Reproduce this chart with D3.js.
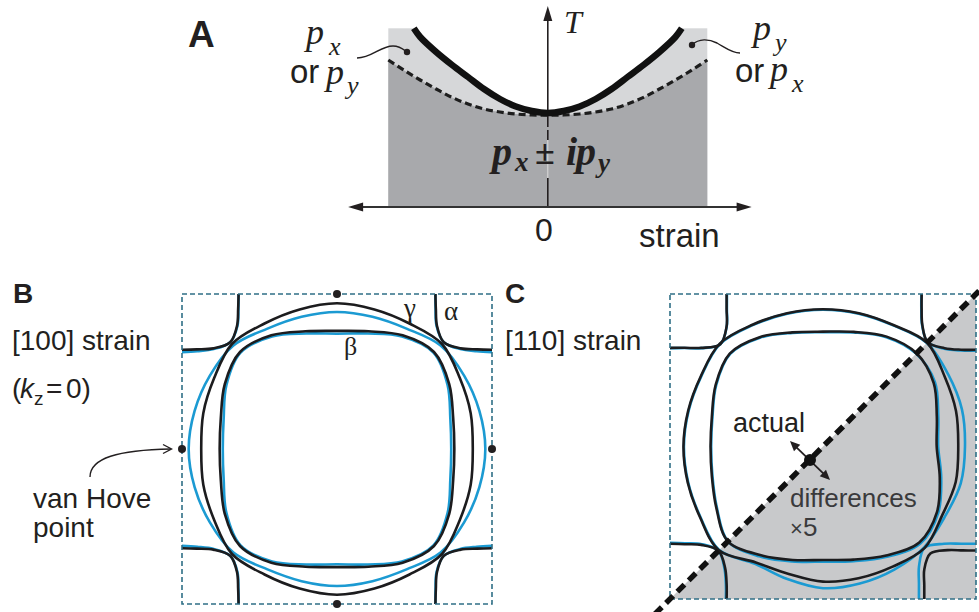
<!DOCTYPE html>
<html>
<head>
<meta charset="utf-8">
<script src="https://cdn.jsdelivr.net/npm/d3@7"></script>
<style>
  html, body { margin: 0; padding: 0; background: #fff; }
  svg { display: block; }
</style>
</head>
<body>
<svg id="fig" width="979" height="612"></svg>
<script>
// ---------- Panel A: transition temperature T versus strain ----------
const strainGrid = [-1, -0.9, -0.8, -0.7, -0.6, -0.5, -0.4, -0.3, -0.2, -0.1, 0,
                    0.1, 0.2, 0.3, 0.4, 0.5, 0.6, 0.7, 0.8, 0.9, 1];
// lower (dashed) boundary: below it the two-component p_x ± ip_y state
const tMixedEdge = [0.735, 0.683, 0.635, 0.59, 0.548, 0.515, 0.49, 0.475, 0.465, 0.46, 0.459,
                    0.46, 0.465, 0.475, 0.49, 0.515, 0.548, 0.59, 0.635, 0.683, 0.735];
// upper (thick) boundary: onset of the single-component p_x or p_y state
const strainSingle = [-0.84, -0.8, -0.7, -0.6, -0.5, -0.4, -0.3, -0.2, -0.1, 0,
                      0.1, 0.2, 0.3, 0.4, 0.5, 0.6, 0.7, 0.8, 0.84];
const tSingleEdge = [0.8935, 0.85, 0.775, 0.71, 0.65, 0.59, 0.54, 0.5025, 0.48, 0.47,
                     0.48, 0.5025, 0.54, 0.59, 0.65, 0.71, 0.775, 0.85, 0.8935];
const tBandTop = 0.8935;
const strainAxisEnds = [-1.252, 1.278];
const tAxisTop = 1.005;

// ---------- Panels B and C: Fermi surface sheets (radius versus polar angle, units of the zone half-width) ----------
const polarAngles = [0, 15, 30, 45, 60, 75, 90, 105, 120, 135, 150, 165,
                     180, 195, 210, 225, 240, 255, 270, 285, 300, 315, 330, 345];
const pocketAngles = [0, 15, 30, 45, 60, 75, 90];   // alpha pockets, measured from each zone corner
const zoneCorners = [[-1, 1], [1, 1], [-1, -1], [1, -1]];
const vanHovePoints = [[0, 1], [0, -1], [-1, 0], [1, 0]];

// B: [100] strain
const bGammaDark = [.876, .893, .915, .958, .935, .932, .940, .932, .935, .958, .915, .893,
                    .876, .893, .915, .958, .935, .932, .940, .932, .935, .958, .915, .893];
const bGammaBlue = [.957, .951, .947, .945, .897, .883, .884, .883, .897, .945, .947, .951,
                    .957, .951, .947, .945, .897, .883, .884, .883, .897, .945, .947, .951];
const bBetaDark  = [.757, .776, .836, .885, .847, .786, .762, .786, .847, .885, .836, .776,
                    .757, .776, .836, .885, .847, .786, .762, .786, .847, .885, .836, .776];
const bBetaBlue  = [.737, .757, .824, .880, .838, .771, .744, .771, .838, .880, .824, .757,
                    .737, .757, .824, .880, .838, .771, .744, .771, .838, .880, .824, .757];
const bAlphaDark = [.365, .375, .41, .44, .405, .37, .36];
const bAlphaBlue = [.365, .377, .413, .44, .41, .382, .375];

// C: [110] strain (upper-left half actual, lower-right half differences x5)
const cGammaDark = [.884, .900, .918, .962, .920, .905, .900, .905, .922, .954, .922, .912,
                    .912, .915, .928, .962, .878, .865, .886, .895, .910, .940, .900, .898];
const cGammaBlue = [.928, .940, .945, .960, .917, .902, .897, .902, .919, .951, .919, .909,
                    .909, .912, .925, .960, .888, .900, .929, .930, .932, .935, .920, .932];
const cBetaDark  = [.743, .770, .835, .865, .832, .778, .753, .775, .828, .862, .810, .752,
                    .735, .752, .805, .879, .822, .770, .744, .768, .825, .890, .860, .790];
const cBetaBlue  = [.753, .780, .845, .861, .828, .774, .749, .771, .824, .858, .806, .748,
                    .731, .748, .801, .879, .832, .780, .755, .778, .835, .900, .870, .800];
const cAlphaDarkTL = [.37, .383, .427, .465, .408, .365, .353];
const cAlphaBlueTL = [.372, .385, .428, .465, .41, .367, .355];
const cAlphaDarkTR = [.355, .368, .405, .447, .41, .378, .366];
const cAlphaBlueTR = [.357, .37, .407, .447, .415, .384, .372];
const cAlphaDarkBL = [.37, .383, .415, .448, .41, .372, .362];
const cAlphaBlueBL = [.365, .378, .41, .448, .415, .378, .368];
const cAlphaDarkBR = [.338, .35, .39, .422, .37, .33, .318];
const cAlphaBlueBR = [.373, .386, .43, .476, .418, .375, .362];
const cArrowDot = [-0.085, -0.088];
const cArrowEnds = [[-0.216, 0.036], [0.046, -0.219]];

// ---------- styling ----------
const SANS = '"Liberation Sans", Arial, Helvetica, sans-serif';
const SERIF = '"Liberation Serif", "Times New Roman", serif';
const INK = "#231f20";
const DARK = "#1c1c1e";
const BLUE = "#1b9ad2";
const BOX = "#2f6f86";

const svg = d3.select("#fig");
const defs = svg.append("defs");

function label(g, str, x, y, o = {}) {
  return g.append("text")
    .attr("x", x).attr("y", y)
    .attr("font-family", o.family || SANS)
    .attr("font-size", o.size || 28)
    .attr("font-style", o.style || "normal")
    .attr("font-weight", o.weight || "normal")
    .attr("text-anchor", o.anchor || "start")
    .attr("fill", o.fill || INK)
    .text(str);
}

function arrowHead(g, tip, angle, len, half, fill) {
  const c = Math.cos(angle), s = Math.sin(angle);
  const bx = tip[0] - c * len, by = tip[1] - s * len;
  const p = d3.path();
  p.moveTo(tip[0], tip[1]);
  p.lineTo(bx - s * half, by + c * half);
  p.lineTo(bx + s * half, by - c * half);
  p.closePath();
  g.append("path").attr("d", p.toString()).attr("fill", fill || INK);
}

// ======================= Panel A =======================
const xA = d3.scaleLinear().domain([-1, 1]).range([388.3, 707.3]);
const yA = d3.scaleLinear().domain([0, 1]).range([207, 7]);
const gA = svg.append("g");

const singlePts = strainSingle.map((s, i) => [s, tSingleEdge[i]]);
const mixedPts = strainGrid.map((s, i) => [s, tMixedEdge[i]]);

gA.append("rect")
  .attr("x", xA(-1)).attr("y", yA(tBandTop))
  .attr("width", xA(1) - xA(-1)).attr("height", yA(0) - yA(tBandTop))
  .attr("fill", "#d6d7d9");
gA.append("path").datum(singlePts)
  .attr("d", d3.area().x(d => xA(d[0])).y0(yA(tBandTop) - 1).y1(d => yA(d[1])).curve(d3.curveCatmullRom))
  .attr("fill", "#fff");
gA.append("path").datum(mixedPts)
  .attr("d", d3.area().x(d => xA(d[0])).y0(yA(0)).y1(d => yA(d[1])).curve(d3.curveCatmullRom))
  .attr("fill", "#a8a9ac");

// vertical T axis
const x0 = xA(0);
gA.append("line").attr("x1", x0).attr("x2", x0).attr("y1", yA(0.47)).attr("y2", yA(tAxisTop) + 10)
  .attr("stroke", INK).attr("stroke-width", 1.6);
gA.append("line").attr("x1", x0).attr("x2", x0).attr("y1", yA(0.46)).attr("y2", 140)
  .attr("stroke", INK).attr("stroke-width", 1.6).attr("stroke-dasharray", "12,3");
gA.append("line").attr("x1", x0).attr("x2", x0).attr("y1", 140).attr("y2", 178)
  .attr("stroke", "#dcdcdc").attr("stroke-width", 1);
gA.append("line").attr("x1", x0).attr("x2", x0).attr("y1", 178).attr("y2", yA(0))
  .attr("stroke", INK).attr("stroke-width", 1.6);
arrowHead(gA, [x0, yA(tAxisTop)], -Math.PI / 2, 15, 4.5);

// horizontal strain axis
gA.append("line")
  .attr("x1", xA(strainAxisEnds[0]) + 10).attr("x2", xA(strainAxisEnds[1]) - 10)
  .attr("y1", yA(0)).attr("y2", yA(0))
  .attr("stroke", "#333").attr("stroke-width", 1.8);
arrowHead(gA, [xA(strainAxisEnds[0]), yA(0)], Math.PI, 15, 4.5);
arrowHead(gA, [xA(strainAxisEnds[1]), yA(0)], 0, 15, 4.5);

// phase boundaries
gA.append("path").datum(mixedPts)
  .attr("d", d3.line().x(d => xA(d[0])).y(d => yA(d[1])).curve(d3.curveCatmullRom))
  .attr("fill", "none").attr("stroke", "#1d1d1d").attr("stroke-width", 3.2)
  .attr("stroke-dasharray", "7,4");
gA.append("path").datum(singlePts)
  .attr("d", d3.line().x(d => xA(d[0])).y(d => yA(d[1])).curve(d3.curveCatmullRom))
  .attr("fill", "none").attr("stroke", "#111").attr("stroke-width", 6.5);

// annotations
label(gA, "A", 188, 47, { size: 37, weight: "bold" });
label(gA, "T", 564, 33, { family: SERIF, style: "italic", size: 32 });
label(gA, "0", 544, 241, { size: 32, anchor: "middle" });
label(gA, "strain", 639, 247, { size: 33 });

// p_x ± ip_y
const bi = { family: SERIF, style: "italic", weight: "bold" };
label(gA, "p", 492, 165, { ...bi, size: 40 });
label(gA, "x", 515, 171, { ...bi, size: 27 });
label(gA, "±", 535, 164, { family: SERIF, weight: "bold", size: 36 });
label(gA, "i", 566, 165, { ...bi, size: 40 });
label(gA, "p", 576, 165, { ...bi, size: 40 });
label(gA, "y", 598, 172, { ...bi, size: 27 });

// left and right leaders
const it = { family: SERIF, style: "italic" };
label(gA, "p", 306, 44, { ...it, size: 36 });
label(gA, "x", 329, 55, { ...it, size: 26 });
label(gA, "or", 290, 83, { size: 33 });
label(gA, "p", 326, 84, { ...it, size: 36 });
label(gA, "y", 347, 94, { ...it, size: 26 });
gA.append("path").attr("d", "M357,58 C372,58 380,46 393,46 C400,46 403,49 407,52")
  .attr("fill", "none").attr("stroke", INK).attr("stroke-width", 1.4);
gA.append("circle").attr("cx", 407).attr("cy", 52).attr("r", 3.2).attr("fill", INK);

label(gA, "p", 753, 40, { ...it, size: 36 });
label(gA, "y", 775, 51, { ...it, size: 26 });
label(gA, "or", 735, 82, { size: 33 });
label(gA, "p", 770, 81, { ...it, size: 36 });
label(gA, "x", 792, 92, { ...it, size: 26 });
gA.append("path").attr("d", "M692,45 C699,38 709,39 717,43 C726,48 732,53 740,53")
  .attr("fill", "none").attr("stroke", INK).attr("stroke-width", 1.4);
gA.append("circle").attr("cx", 692).attr("cy", 45).attr("r", 3.2).attr("fill", INK);

// ======================= Fermi surface helpers =======================
const rad = d => d * Math.PI / 180;
function closedSheet(radii) {
  return radii.map((r, i) => [r * Math.cos(rad(polarAngles[i])), r * Math.sin(rad(polarAngles[i]))]);
}
function cornerPocket(radii, corner) {
  const dx = -corner[0], dy = -corner[1];
  return radii.map((r, i) => [corner[0] + dx * r * Math.cos(rad(pocketAngles[i])),
                               corner[1] + dy * r * Math.sin(rad(pocketAngles[i]))]);
}

function drawZone(id, x, y, sheets, pockets, extra) {
  const g = svg.append("g");
  defs.append("clipPath").attr("id", id).append("rect")
    .attr("x", x(-1)).attr("y", y(1)).attr("width", x(1) - x(-1)).attr("height", y(-1) - y(1));
  if (extra) extra(g);
  const inner = g.append("g").attr("clip-path", `url(#${id})`);
  const closed = d3.line().x(d => x(d[0])).y(d => y(d[1])).curve(d3.curveCatmullRomClosed.alpha(0.5));
  const open = d3.line().x(d => x(d[0])).y(d => y(d[1])).curve(d3.curveCatmullRom.alpha(0.5));
  [BLUE, DARK].forEach(col => {
    sheets.filter(s => s.color === col).forEach(s => {
      inner.append("path").datum(closedSheet(s.radii)).attr("d", closed)
        .attr("fill", "none").attr("stroke", col).attr("stroke-width", 2.6);
    });
    pockets.filter(p => p.color === col).forEach(p => {
      inner.append("path").datum(cornerPocket(p.radii, p.corner)).attr("d", open)
        .attr("fill", "none").attr("stroke", col).attr("stroke-width", 2.6);
    });
  });
  g.append("rect")
    .attr("x", x(-1)).attr("y", y(1)).attr("width", x(1) - x(-1)).attr("height", y(-1) - y(1))
    .attr("fill", "none").attr("stroke", BOX).attr("stroke-width", 1.6)
    .attr("stroke-dasharray", "5,3");
  return g;
}

// ======================= Panel B =======================
const xB = d3.scaleLinear().domain([-1, 1]).range([182, 492]);
const yB = d3.scaleLinear().domain([-1, 1]).range([604, 294]);
const gB = drawZone("clipB", xB, yB,
  [{ radii: bGammaBlue, color: BLUE }, { radii: bBetaBlue, color: BLUE },
   { radii: bGammaDark, color: DARK }, { radii: bBetaDark, color: DARK }],
  zoneCorners.flatMap(c => [{ radii: bAlphaBlue, corner: c, color: BLUE },
                            { radii: bAlphaDark, corner: c, color: DARK }]));
vanHovePoints.forEach(p => {
  gB.append("circle").attr("cx", xB(p[0])).attr("cy", yB(p[1])).attr("r", 4).attr("fill", INK);
});
label(gB, "\u03b3", 404, 317, { family: SERIF, size: 27 });
label(gB, "\u03b1", 444, 320, { family: SERIF, size: 27 });
label(gB, "\u03b2", 344, 355, { family: SERIF, size: 26 });

label(gB, "B", 13, 303, { size: 28, weight: "bold" });
label(gB, "[100] strain", 12, 350, { size: 28 });
label(gB, "(", 12, 398, { size: 28 });
label(gB, "k", 20, 398, { size: 28, style: "italic" });
label(gB, "z", 34, 405, { size: 19 });
label(gB, "=", 46, 398, { size: 28 });
label(gB, "0)", 66, 398, { size: 28 });
label(gB, "van Hove", 33, 508, { size: 28 });
label(gB, "point", 33, 537, { size: 28 });
gB.append("path").attr("d", "M90,477 C90,458 118,450 171,449")
  .attr("fill", "none").attr("stroke", INK).attr("stroke-width", 1.4);
gB.append("path").attr("d", "M163,444.5 L171.5,449 L163,453.5")
  .attr("fill", "none").attr("stroke", INK).attr("stroke-width", 1.4);

// ======================= Panel C =======================
const xC = d3.scaleLinear().domain([-1, 1]).range([670, 976]);
const yC = d3.scaleLinear().domain([-1, 1]).range([599, 294]);
const gC = drawZone("clipC", xC, yC,
  [{ radii: cGammaBlue, color: BLUE }, { radii: cBetaBlue, color: BLUE },
   { radii: cGammaDark, color: DARK }, { radii: cBetaDark, color: DARK }],
  [{ radii: cAlphaBlueTL, corner: zoneCorners[0], color: BLUE },
   { radii: cAlphaBlueTR, corner: zoneCorners[1], color: BLUE },
   { radii: cAlphaBlueBL, corner: zoneCorners[2], color: BLUE },
   { radii: cAlphaBlueBR, corner: zoneCorners[3], color: BLUE },
   { radii: cAlphaDarkTL, corner: zoneCorners[0], color: DARK },
   { radii: cAlphaDarkTR, corner: zoneCorners[1], color: DARK },
   { radii: cAlphaDarkBL, corner: zoneCorners[2], color: DARK },
   { radii: cAlphaDarkBR, corner: zoneCorners[3], color: DARK }],
  g => {
    // shaded half showing the exaggerated differences
    g.append("path").datum([[-1, -1], [1, 1], [1, -1]])
      .attr("d", d3.line().x(d => xC(d[0])).y(d => yC(d[1])).curve(d3.curveLinearClosed))
      .attr("fill", "#c8c9cb");
  });

gC.append("line")
  .attr("x1", xC(-1.1)).attr("y1", yC(-1.1)).attr("x2", xC(1.06)).attr("y2", yC(1.06))
  .attr("stroke", "#111").attr("stroke-width", 5.5).attr("stroke-dasharray", "10,6");

const aS = [xC(cArrowEnds[0][0]), yC(cArrowEnds[0][1])];
const aE = [xC(cArrowEnds[1][0]), yC(cArrowEnds[1][1])];
const ang = Math.atan2(aE[1] - aS[1], aE[0] - aS[0]);
gC.append("line")
  .attr("x1", aS[0] + 8 * Math.cos(ang)).attr("y1", aS[1] + 8 * Math.sin(ang))
  .attr("x2", aE[0] - 8 * Math.cos(ang)).attr("y2", aE[1] - 8 * Math.sin(ang))
  .attr("stroke", INK).attr("stroke-width", 1.8);
arrowHead(gC, aS, ang + Math.PI, 10, 4.5);
arrowHead(gC, aE, ang, 10, 4.5);
gC.append("circle").attr("cx", xC(cArrowDot[0])).attr("cy", yC(cArrowDot[1])).attr("r", 6).attr("fill", "#111");

label(gC, "actual", 733, 432, { size: 27 });
label(gC, "differences", 790, 507, { size: 26, fill: "#3a3a3c" });
label(gC, "\u00d7", 790, 536, { size: 22, fill: "#3a3a3c" });
label(gC, "5", 803, 536, { size: 26, fill: "#3a3a3c" });

label(gC, "C", 505, 303, { size: 28, weight: "bold" });
label(gC, "[110] strain", 505, 350, { size: 28 });
</script>
</body>
</html>
